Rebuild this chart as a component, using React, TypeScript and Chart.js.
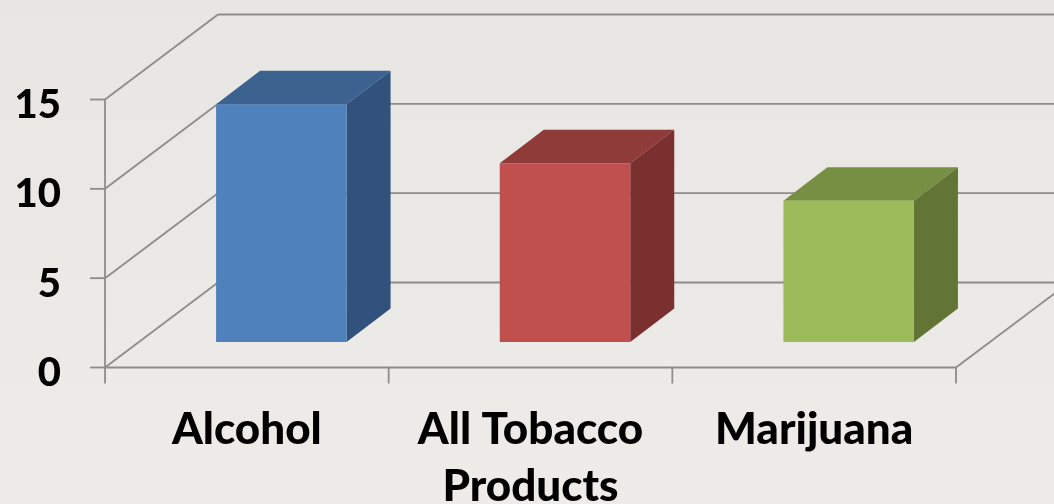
import React, { useEffect, useRef } from "react";
import { Chart, registerables } from "chart.js";

Chart.register(...registerables);

const categories = ["Alcohol", ["All Tobacco", "Products"], "Marijuana"];
const values = [13.3, 10.0, 7.9];
const yMax = 15;
const yStep = 5;

const frontColors = ["#4f81bd", "#c0504d", "#9bbb59"];
const sideColors = ["#31527c", "#7a302f", "#637534"];
const topColors = ["#3c628f", "#8f3b39", "#768f42"];
const lineColor = "#8c8c8a";

// Offsets of the pseudo-3D projection, in pixels.
const wallDepth = { x: 113, y: -85 };
const barDepth = { x: 44, y: -33.5 };
const barShift = { x: 34.5, y: -25.5 };
const tickLength = { y: 15, x: 16 };

function face(ctx: CanvasRenderingContext2D, pts: number[][], fill: string) {
  ctx.beginPath();
  pts.forEach(([x, y], i) => (i ? ctx.lineTo(x, y) : ctx.moveTo(x, y)));
  ctx.closePath();
  ctx.fillStyle = fill;
  ctx.fill();
}

const box3d = {
  id: "box3d",
  beforeDatasetsDraw(chart: any) {
    const { ctx, chartArea, scales } = chart;
    const { left, right, bottom } = chartArea;
    const canvasRight = chart.width;
    ctx.save();
    ctx.strokeStyle = lineColor;
    ctx.lineWidth = 1.8;
    const seg = (x1: number, y1: number, x2: number, y2: number) => {
      ctx.beginPath();
      ctx.moveTo(x1, y1);
      ctx.lineTo(x2, y2);
      ctx.stroke();
    };
    // Value gridlines: tick, side wall diagonal, back wall run.
    scales.y.ticks.forEach((t: any) => {
      const y = scales.y.getPixelForValue(t.value);
      seg(left - tickLength.y, y, left, y);
      seg(left, y, left + wallDepth.x, y + wallDepth.y);
      seg(left + wallDepth.x, y + wallDepth.y, canvasRight, y + wallDepth.y);
    });
    // Front axes and floor edge.
    seg(left, chartArea.top, left, bottom + tickLength.x);
    seg(left, bottom, right, bottom);
    seg(right, bottom, right + wallDepth.x, bottom + wallDepth.y);
    // Category separators along the floor.
    const slot = (right - left) / categories.length;
    categories.forEach((_, i) => {
      const x = left + slot * (i + 1);
      seg(x, bottom, x, bottom + tickLength.x);
    });
    ctx.restore();

    // Bars are pushed back onto the floor; top and side faces go behind the front face.
    ctx.save();
    ctx.translate(barShift.x, barShift.y);
    chart.getDatasetMeta(0).data.forEach((bar: any, i: number) => {
      const l = bar.x - bar.width / 2;
      const r = bar.x + bar.width / 2;
      const { x: dx, y: dy } = barDepth;
      face(ctx, [[l, bar.y], [r, bar.y], [r + dx, bar.y + dy], [l + dx, bar.y + dy]], topColors[i]);
      face(ctx, [[r, bar.y], [r + dx, bar.y + dy], [r + dx, bar.base + dy], [r, bar.base]], sideColors[i]);
    });
  },
  afterDatasetsDraw(chart: any) {
    chart.ctx.restore();
  },
};

export default function App() {
  const ref = useRef<HTMLCanvasElement>(null);
  useEffect(() => {
    document.body.style.margin = "0";
    const chart = new Chart(ref.current!, {
      type: "bar",
      data: {
        labels: categories as any,
        datasets: [
          {
            data: values,
            backgroundColor: frontColors,
            barPercentage: 0.46,
            categoryPercentage: 1,
            clip: false as any,
          },
        ],
      },
      plugins: [box3d],
      options: {
        animation: false,
        responsive: false,
        layout: { padding: { top: 99.5, right: 98, left: 0, bottom: 0 } },
        plugins: { legend: { display: false }, tooltip: { enabled: false } },
        scales: {
          x: {
            grid: { display: false },
            border: { display: false },
            afterFit: (s: any) => {
              s.height = 136.5;
            },
            ticks: {
              color: "#000",
              padding: 26,
              maxRotation: 0,
              autoSkip: false,
              font: { family: "Lato", weight: "900", size: 44, lineHeight: 1.3 },
            },
          },
          y: {
            min: 0,
            max: yMax,
            grid: { display: false },
            border: { display: false },
            afterFit: (s: any) => {
              s.width = 105;
            },
            ticks: {
              stepSize: yStep,
              color: "#000",
              padding: 36,
              // A blank first line sets the digits slightly below their gridline.
              callback: (v: any) => ["", String(v)],
              font: { family: "Lato", weight: "900", size: 40, lineHeight: 0.28 },
            },
          },
        },
      },
    });
    return () => chart.destroy();
  }, []);
  return (
    <div
      style={{
        width: 1054,
        height: 504,
        overflow: "hidden",
        background: "linear-gradient(180deg, #e7e6e2 0%, #edecE9 100%)",
      }}
    >
      <canvas ref={ref} width={1054} height={504} style={{ display: "block" }} />
    </div>
  );
}
